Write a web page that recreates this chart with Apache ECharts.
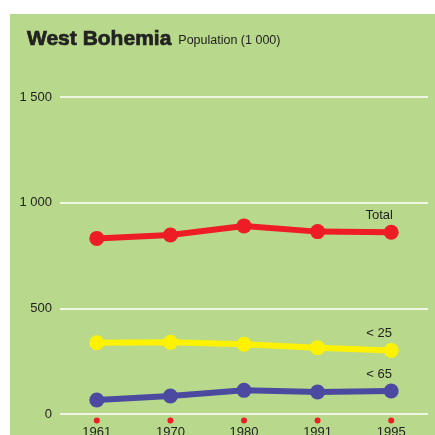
<!DOCTYPE html>
<html>
<head>
<meta charset="utf-8">
<script src="https://cdn.jsdelivr.net/npm/echarts@6/dist/echarts.min.js"></script>
<style>
  html, body { margin: 0; padding: 0; background: #fff; }
  #chart { position: absolute; left: 10px; top: 14px; width: 425px; height: 421px; background: #b8d98b; }
</style>
</head>
<body>
<div id="chart"></div>
<script>
// data
const years = ['1961', '1970', '1980', '1991', '1995'];
const total = [831, 847, 890, 863, 860];
const under25 = [337, 339, 330, 314, 301];
const under65 = [66, 85, 112, 104, 109];
const yTicks = [0, 500, 1000, 1500];

const fmt = v => String(v).replace(/\B(?=(\d{3})+(?!\d))/g, ' ');
const narrow = '"Liberation Sans Narrow", "Arial Narrow", "Liberation Sans", Arial, sans-serif';

// put a name label on the last point only
const withEndLabel = (values, text) => values.map((v, i) => i === values.length - 1
  ? { value: v, label: { show: true, formatter: text } }
  : v);

const mkSeries = (name, values, color, text) => ({
  type: 'line',
  name: name,
  data: withEndLabel(values, text),
  symbol: 'circle',
  symbolSize: 15,
  lineStyle: { color: color, width: 6 },
  itemStyle: { color: color },
  label: {
    show: false,
    position: 'top',
    offset: [-12, 2],
    color: '#222',
    fontSize: 13,
    fontFamily: narrow
  },
  emphasis: { disabled: true },
  z: 3
});

const chart = echarts.init(document.getElementById('chart'));
chart.setOption({
  animation: false,
  title: {
    text: '{a|West Bohemia} {b|Population (1 000)}',
    left: 17,
    top: 15,
    padding: 0,
    textStyle: {
      fontWeight: 'normal',
      rich: {
        a: { fontSize: 21, fontWeight: 'bold', color: '#222', textBorderColor: '#222', textBorderWidth: 0.7, fontFamily: '"Liberation Sans", Arial, sans-serif' },
        b: { fontSize: 12.5, fontWeight: 'normal', color: '#222', fontFamily: '"Liberation Sans", Arial, sans-serif', padding: [3, 0, 0, 2] }
      }
    }
  },
  grid: { left: 50, right: 7, top: 83, bottom: 21, containLabel: false, outerBoundsMode: 'none' },
  xAxis: {
    type: 'category',
    data: years,
    boundaryGap: true,
    axisLine: { show: false },
    axisTick: { show: false },
    axisLabel: {
      margin: 2,
      formatter: v => '{dot|}\n{yr|' + v + '}',
      rich: {
        dot: { width: 6, height: 6, borderRadius: 3, backgroundColor: '#ee1c25', lineHeight: 9 },
        yr: { color: '#222', fontSize: 13, lineHeight: 15, fontFamily: narrow }
      }
    }
  },
  yAxis: {
    type: 'value',
    min: 0,
    max: 1500,
    interval: 500,
    axisLine: { show: false },
    axisTick: { show: false },
    axisLabel: {
      margin: 8,
      color: '#222',
      fontSize: 13,
      fontFamily: narrow,
      formatter: v => yTicks.includes(v) ? fmt(v) : ''
    },
    splitLine: { lineStyle: { color: '#ffffff', width: 1.5 } }
  },
  series: [
    mkSeries('Total', total, '#ee1c25', 'Total'),
    mkSeries('< 25', under25, '#fff200', '< 25'),
    mkSeries('< 65', under65, '#4b4aa0', '< 65')
  ]
});
</script>
</body>
</html>
